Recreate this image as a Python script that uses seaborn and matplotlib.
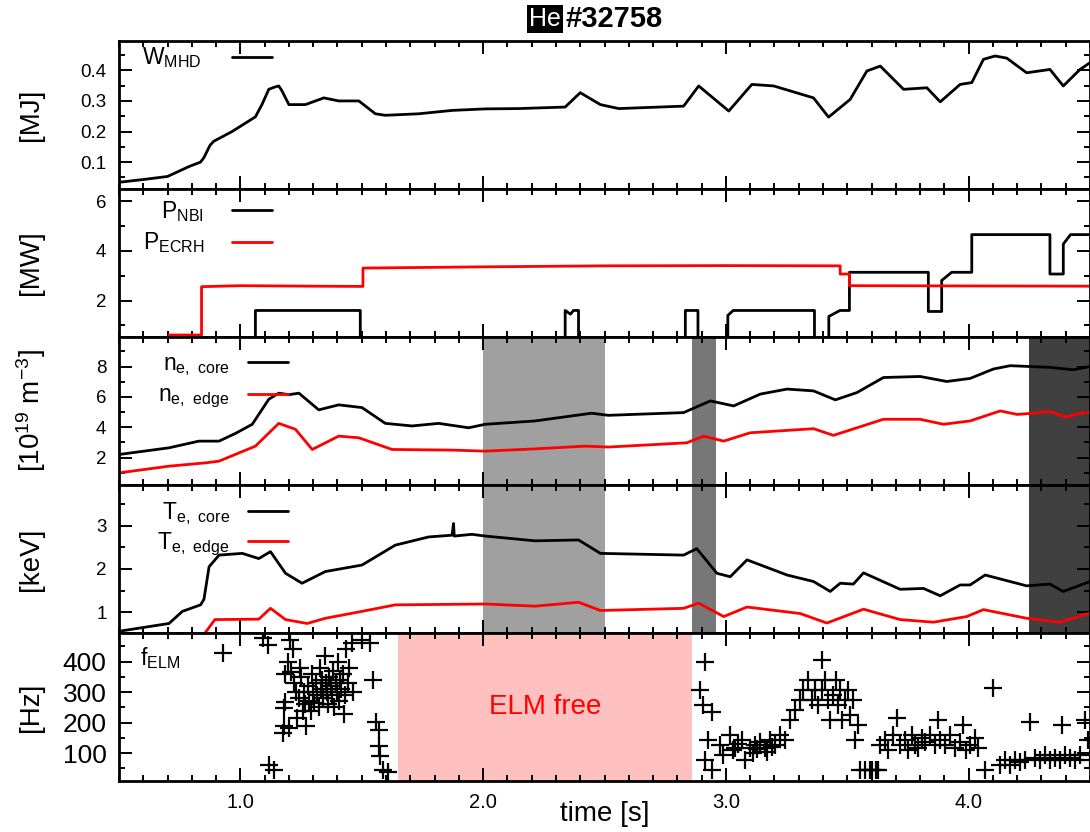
import matplotlib
matplotlib.use("Agg")
import matplotlib.pyplot as plt
from matplotlib.ticker import MultipleLocator, FormatStrFormatter
import seaborn as sns

# ---------------------------------------------------------------- data
# stored energy [MJ]
t_wmhd = [0.50, 0.60, 0.70, 0.79, 0.836, 0.85, 0.875, 0.89, 0.966, 1.062, 1.09, 1.117,
          1.14, 1.158, 1.17, 1.20, 1.268, 1.344, 1.405, 1.488, 1.556, 1.597, 1.735,
          1.872, 2.009, 2.146, 2.338, 2.40, 2.483, 2.559, 2.826, 2.888, 3.012, 3.107,
          3.197, 3.361, 3.423, 3.512, 3.581, 3.636, 3.732, 3.828, 3.883, 3.965, 4.013,
          4.061, 4.109, 4.157, 4.239, 4.335, 4.39, 4.459, 4.50]
wmhd = [0.034, 0.043, 0.053, 0.086, 0.10, 0.115, 0.155, 0.168, 0.20, 0.248, 0.29, 0.338,
        0.345, 0.349, 0.335, 0.288, 0.288, 0.31, 0.30, 0.30, 0.258, 0.253, 0.258,
        0.269, 0.274, 0.275, 0.28, 0.327, 0.288, 0.275, 0.283, 0.349, 0.267, 0.354,
        0.349, 0.31, 0.247, 0.305, 0.398, 0.414, 0.338, 0.343, 0.297, 0.354, 0.36,
        0.436, 0.447, 0.44, 0.392, 0.403, 0.349, 0.403, 0.425]

# heating powers [MW]
t_nbi = [0.50, 1.062, 1.062, 1.494, 1.494, 2.338, 2.338, 2.36, 2.372, 2.393, 2.393,
         2.833, 2.833, 2.885, 2.885, 3.008, 3.008, 3.03, 3.365, 3.365, 3.424, 3.424,
         3.47, 3.509, 3.509, 3.834, 3.834, 3.889, 3.889, 3.93, 4.013, 4.013, 4.335,
         4.335, 4.39, 4.39, 4.42, 4.50]
p_nbi = [0.0, 0.0, 1.6, 1.6, 0.0, 0.0, 1.6, 1.45, 1.6, 1.6, 0.0,
         0.0, 1.6, 1.6, 0.0, 0.0, 1.4, 1.6, 1.6, 0.0, 0.0, 1.36,
         1.6, 1.6, 3.14, 3.14, 1.56, 1.56, 2.81, 3.14, 3.14, 4.66, 4.66,
         3.07, 3.07, 4.28, 4.66, 4.66]
t_ecrh = [0.706, 0.84, 0.84, 1.0, 1.3, 1.505, 1.505, 2.0, 2.5, 3.0, 3.471, 3.471,
          3.509, 3.509, 4.50]
p_ecrh = [0.61, 0.61, 2.56, 2.60, 2.58, 2.57, 3.31, 3.36, 3.40, 3.41, 3.40, 3.07,
          3.07, 2.60, 2.58]

# electron density [1e19 m^-3]
t_ne_core = [0.50, 0.706, 0.829, 0.912, 0.98, 1.049, 1.117, 1.158, 1.20, 1.241, 1.323,
             1.405, 1.501, 1.597, 1.707, 1.817, 1.94, 2.009, 2.214, 2.447, 2.516, 2.826,
             2.936, 3.032, 3.142, 3.252, 3.361, 3.451, 3.54, 3.649, 3.80, 3.91, 4.006,
             4.102, 4.171, 4.335, 4.431, 4.50]
ne_core = [2.21, 2.65, 3.09, 3.09, 3.6, 4.2, 5.85, 6.25, 6.15, 6.25, 5.15,
           5.48, 5.3, 4.26, 4.09, 4.26, 3.97, 4.2, 4.42, 4.93, 4.79, 4.97,
           5.74, 5.41, 6.19, 6.52, 6.4, 5.81, 6.29, 7.28, 7.35, 7.02, 7.22,
           7.84, 8.06, 7.95, 7.79, 8.01]
t_ne_edge = [0.50, 0.706, 0.857, 0.912, 1.062, 1.158, 1.227, 1.296, 1.405, 1.488,
             1.625, 1.872, 2.009, 2.214, 2.42, 2.516, 2.839, 2.908, 2.991, 3.10,
             3.361, 3.443, 3.649, 3.80, 3.896, 4.006, 4.13, 4.20, 4.266, 4.33,
             4.403, 4.45, 4.50]
ne_edge = [1.0, 1.44, 1.66, 1.77, 2.76, 4.26, 3.87, 2.54, 3.42, 3.31,
           2.54, 2.5, 2.43, 2.58, 2.76, 2.7, 2.98, 3.42, 3.09, 3.64,
           3.91, 3.47, 4.53, 4.53, 4.2, 4.42, 5.08, 4.85, 4.93, 5.05,
           4.68, 4.9, 5.01]

# electron temperature [keV]
t_te_core = [0.50, 0.706, 0.761, 0.836, 0.85, 0.871, 0.912, 1.008, 1.076, 1.124, 1.186,
             1.254, 1.35, 1.501, 1.638, 1.776, 1.872, 1.878, 1.881, 1.954, 2.009,
             2.214, 2.393, 2.483, 2.826, 2.88, 2.963, 3.018, 3.087, 3.252, 3.361,
             3.43, 3.471, 3.525, 3.567, 3.718, 3.814, 3.883, 3.965, 4.006, 4.068,
             4.239, 4.335, 4.39, 4.50]
te_core = [0.56, 0.74, 1.02, 1.17, 1.3, 2.05, 2.32, 2.36, 2.24, 2.4, 1.9,
           1.67, 1.94, 2.09, 2.55, 2.74, 2.78, 3.05, 2.76, 2.8, 2.76,
           2.65, 2.67, 2.36, 2.32, 2.47, 1.9, 1.82, 2.21, 1.86, 1.71,
           1.48, 1.67, 1.65, 1.91, 1.53, 1.55, 1.38, 1.63, 1.63, 1.86,
           1.61, 1.65, 1.48, 1.71]
t_te_edge = [0.845, 0.895, 1.076, 1.124, 1.186, 1.275, 1.35, 1.501, 1.638, 2.009,
             2.214, 2.393, 2.483, 2.826, 2.888, 2.991, 3.087, 3.306, 3.416, 3.567,
             3.718, 3.855, 3.992, 4.061, 4.239, 4.376, 4.50]
te_edge = [0.45, 0.83, 0.84, 1.09, 0.83, 0.74, 0.86, 1.02, 1.17, 1.19,
           1.14, 1.23, 1.04, 1.09, 1.21, 0.9, 1.12, 0.97, 0.75, 1.07,
           0.83, 0.77, 0.9, 1.06, 0.86, 0.77, 0.98]

# ELM frequency [Hz]
t_elm = [0.927, 1.095, 1.115, 1.117, 1.139, 1.174, 1.180, 1.180, 1.182, 1.185,
         1.195, 1.200, 1.205, 1.210, 1.215, 1.222, 1.228, 1.232, 1.240, 1.245,
         1.250, 1.256, 1.262, 1.268, 1.272, 1.278, 1.283, 1.290, 1.295, 1.300,
         1.305, 1.310, 1.316, 1.322, 1.326, 1.332, 1.338, 1.342, 1.348, 1.352,
         1.358, 1.362, 1.366, 1.372, 1.376, 1.382, 1.386, 1.392, 1.396, 1.402,
         1.406, 1.412, 1.416, 1.422, 1.426, 1.432, 1.436, 1.442, 1.448, 1.458,
         1.462, 1.50, 1.535, 1.545, 1.557, 1.570, 1.572, 1.575, 1.586, 1.61,
         2.895, 2.907, 2.916, 2.916, 2.928, 2.944, 2.944, 2.977, 2.99, 3.018,
         3.03, 3.039, 3.05, 3.068, 3.08, 3.10, 3.11, 3.121, 3.13, 3.142,
         3.163, 3.17, 3.183, 3.19, 3.204, 3.224, 3.245, 3.265, 3.286, 3.307,
         3.319, 3.34, 3.356, 3.368, 3.381, 3.397, 3.397, 3.409, 3.422, 3.43,
         3.442, 3.455, 3.463, 3.471, 3.479, 3.492, 3.504, 3.512, 3.525, 3.533,
         3.545, 3.553, 3.574, 3.595, 3.603, 3.62, 3.628,
         3.636, 3.656, 3.669, 3.689, 3.706, 3.718, 3.739, 3.751, 3.767, 3.78,
         3.792, 3.809, 3.821, 3.842, 3.862, 3.874, 3.883, 3.903, 3.924, 3.944,
         3.965, 3.977, 3.99, 4.006, 4.027, 4.039, 4.068, 4.101, 4.13, 4.15,
         4.171, 4.191, 4.212, 4.232, 4.253, 4.274, 4.294, 4.315, 4.335, 4.356,
         4.376, 4.385, 4.397, 4.418, 4.438, 4.459, 4.479, 4.492, 4.50]
f_elm = [430, 478, 455, 62, 45, 165, 190, 247, 269, 360,
         400, 183, 470, 367, 440, 330, 300, 215, 280, 380,
         350, 240, 300, 262, 190, 320, 270, 240, 360, 300,
         265, 330, 290, 250, 380, 310, 340, 280, 420, 330,
         300, 260, 350, 320, 290, 370, 250, 330, 300, 400,
         270, 340, 310, 360, 230, 290, 440, 330, 380, 460,
         300, 470, 462, 340, 203, 176, 125, 90, 45, 40,
         307, 258, 400, 79, 144, 235, 46, 127, 95, 160,
         110, 117, 130, 144, 79, 117, 100, 127, 115, 137,
         117, 105, 144, 120, 127, 160, 144, 209, 242, 275,
         307, 340, 275, 307, 258, 405, 307, 340, 275, 209,
         291, 340, 258, 307, 209, 275, 307, 225, 275, 144,
         193, 46, 46, 46, 46, 46, 46,
         127, 144, 111, 160, 215, 127, 144, 111, 160, 127,
         117, 150, 137, 160, 127, 209, 144, 127, 160, 117,
         137, 193, 111, 127, 150, 117, 46, 314, 62, 79,
         62, 79, 72, 79, 203, 85, 79, 95, 79, 85,
         79, 193, 95, 85, 79, 95, 209, 144, 79]

# analysis windows [s]
light_window = (2.0, 2.5)
mid_window = (2.86, 2.96)
dark_window = (4.25, 4.5)
elm_free = (1.65, 2.86)

# ---------------------------------------------------------------- style
sns.set_theme(style="ticks", rc={
    "text.color": "black", "axes.labelcolor": "black",
    "xtick.color": "black", "ytick.color": "black",
    "axes.edgecolor": "black",
})
plt.rcParams["font.family"] = ["Liberation Sans", "DejaVu Sans"]
plt.rcParams["mathtext.default"] = "regular"

fig, axes = plt.subplots(5, 1, figsize=(10.9, 8.32), dpi=100, sharex=True)
fig.subplots_adjust(left=119 / 1090, right=1.0, top=1 - 41 / 832,
                    bottom=1 - 781 / 832, hspace=0)
ax_w, ax_p, ax_n, ax_t, ax_f = axes

LW = 2.0
RED = "#ff0000"

sns.lineplot(x=t_wmhd, y=wmhd, ax=ax_w, color="black", lw=LW,
             estimator=None, sort=False, label="W$_{MHD}$")
sns.lineplot(x=t_nbi, y=p_nbi, ax=ax_p, color="black", lw=LW,
             estimator=None, sort=False, label="P$_{NBI}$")
sns.lineplot(x=t_ecrh, y=p_ecrh, ax=ax_p, color=RED, lw=LW,
             estimator=None, sort=False, label="P$_{ECRH}$")
sns.lineplot(x=t_ne_core, y=ne_core, ax=ax_n, color="black", lw=LW,
             estimator=None, sort=False, label="n$_{e,\\ core}$")
sns.lineplot(x=t_ne_edge, y=ne_edge, ax=ax_n, color=RED, lw=LW,
             estimator=None, sort=False, label="n$_{e,\\ edge}$")
sns.lineplot(x=t_te_core, y=te_core, ax=ax_t, color="black", lw=LW,
             estimator=None, sort=False, label="T$_{e,\\ core}$")
sns.lineplot(x=t_te_edge, y=te_edge, ax=ax_t, color=RED, lw=LW,
             estimator=None, sort=False, label="T$_{e,\\ edge}$")
sns.scatterplot(x=t_elm, y=f_elm, ax=ax_f, marker="+", s=150, color="black",
                linewidth=1.6, legend=False)

for ax in (ax_n, ax_t):
    ax.axvspan(*light_window, color="#a0a0a0", lw=0, zorder=0)
    ax.axvspan(*mid_window, color="#777777", lw=0, zorder=0)
    ax.axvspan(*dark_window, color="#404040", lw=0, zorder=0)
ax_f.axvspan(*elm_free, color="#ffc0c0", lw=0, zorder=0)
ax_f.text(sum(elm_free) / 2, 252, "ELM free", color=RED, fontsize=20,
          ha="center", va="center")
ax_f.text(0.022, 0.83, "f$_{ELM}$", transform=ax_f.transAxes, fontsize=16.5,
          ha="left", va="center")

# axis limits, ticks and labels
limits = [(0.012, 0.496), (0.53, 6.5), (0.2, 9.95), (0.52, 3.94), (9, 494)]
majors = [0.1, 2, 2, 1, 100]
minors = [0.05, 1, 1, 0.5, 50]
ylabels = ["[MJ]", "[MW]", "[10$^{19}$ m$^{-3}$]", "[keV]", "[Hz]"]
yfmt = ["%.1f", "%d", "%d", "%d", "%d"]
for i, ax in enumerate(axes):
    ax.set_xlim(0.5, 4.5)
    ax.set_ylim(*limits[i])
    ax.yaxis.set_major_locator(MultipleLocator(majors[i]))
    ax.yaxis.set_minor_locator(MultipleLocator(minors[i]))
    ax.yaxis.set_major_formatter(FormatStrFormatter(yfmt[i]))
    ax.xaxis.set_major_locator(MultipleLocator(1.0))
    ax.xaxis.set_minor_locator(MultipleLocator(0.1))
    ax.xaxis.set_major_formatter(FormatStrFormatter("%.1f"))
    ax.tick_params(which="both", direction="in", top=True, right=True,
                   width=1.4, pad=9)
    ax.tick_params(which="major", length=9.5)
    ax.tick_params(which="minor", length=4.5)
    ax.tick_params(axis="y", labelsize=19 if i == 4 else 13.5)
    ax.tick_params(axis="x", labelsize=14.5)
    for sp in ax.spines.values():
        sp.set_linewidth(2.0)
        sp.set_visible(True)
    ax.set_ylabel(ylabels[i], fontsize=20)
    ax.yaxis.set_label_coords(-0.091, 0.5)
    ax.yaxis.label.set_va("center")

ax_f.set_xlabel("time [s]", fontsize=20)
ax_f.xaxis.set_label_coords(0.5, -0.223)
ax_f.xaxis.label.set_va("center")

legend_kw = dict(frameon=False, markerfirst=False, fontsize=16.5, loc="upper right",
                 borderaxespad=0, borderpad=0.2, handlelength=1.75)
ax_w.legend(bbox_to_anchor=(0.162, 1.0), handletextpad=1.3, **legend_kw)
ax_p.legend(bbox_to_anchor=(0.162, 0.965), handletextpad=1.2, labelspacing=0.3,
            **legend_kw)
ax_n.legend(bbox_to_anchor=(0.179, 0.93), handletextpad=0.8, labelspacing=0.25,
            **legend_kw)
ax_t.legend(bbox_to_anchor=(0.179, 0.93), handletextpad=0.8, labelspacing=0.15,
            **legend_kw)

# title: species tag plus discharge number
fig.text(561 / 1090, 1 - 19 / 832, "He", ha="right", va="center", color="white",
         fontsize=18, bbox=dict(facecolor="black", edgecolor="none", pad=1.5))
fig.text(566 / 1090, 1 - 19 / 832, "#32758", ha="left", va="center",
         fontsize=21, fontweight="bold")

fig.savefig("out.png", dpi=100)
